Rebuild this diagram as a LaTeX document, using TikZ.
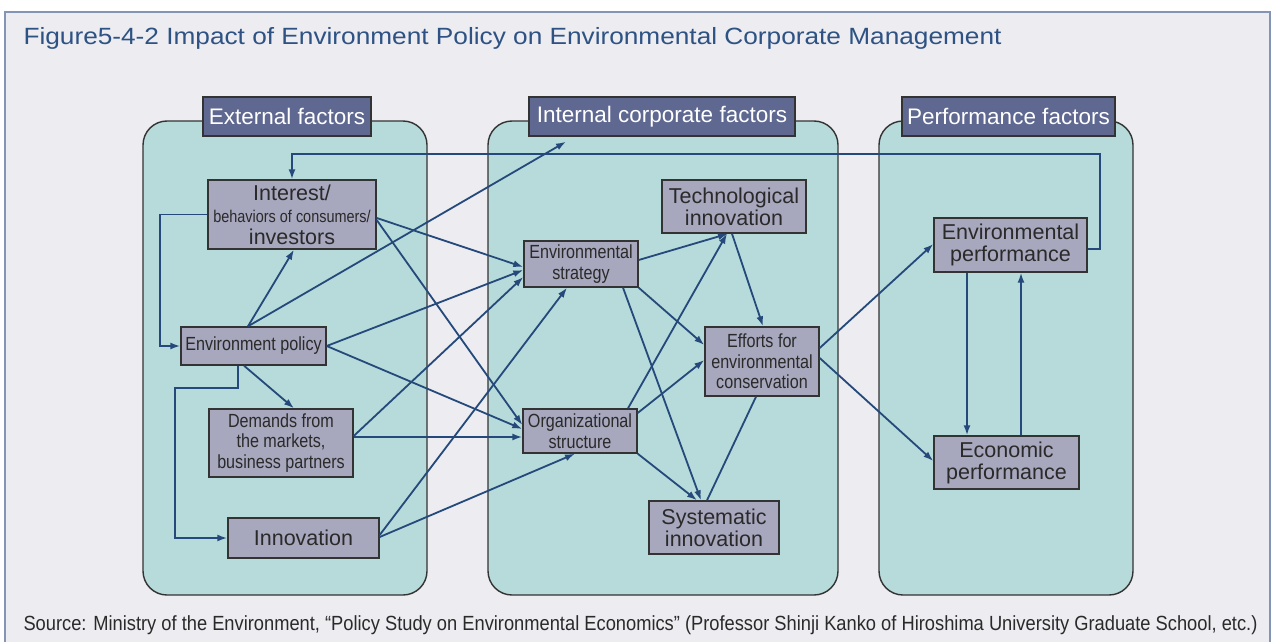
\documentclass[tikz,border=0pt]{standalone}
\usepackage{fontspec}
\usepackage{graphicx}
\setmainfont{Liberation Sans}
\newfontfamily\narrowfont[FakeStretch=0.85]{Liberation Sans}
\usetikzlibrary{arrows.meta}

\definecolor{pagebg}{HTML}{ECECF1}
\definecolor{framecol}{HTML}{8494B4}
\definecolor{panelfill}{HTML}{B7DADA}
\definecolor{boxline}{HTML}{333333}
\definecolor{headfill}{HTML}{5F6890}
\definecolor{nodefill}{HTML}{A7A7BE}
\definecolor{linkcol}{HTML}{24497A}
\definecolor{titlecol}{HTML}{2D5283}
\definecolor{txt}{HTML}{2A2A2A}

\tikzset{
  panel/.style={draw=boxline, fill=panelfill, line width=1.4pt, rounded corners=24pt},
  header/.style={draw=boxline, fill=headfill, line width=1.4pt, text=white,
    minimum height=39pt, inner sep=0pt, font=\fontsize{22.5}{24}\selectfont},
  factor/.style={draw=boxline, fill=nodefill, line width=1.4pt, text=txt,
    inner sep=0pt, align=center, font=\fontsize{21.5}{22}\selectfont},
  narrow/.style={font=\narrowfont\fontsize{19}{20.5}\selectfont},
  link/.style={draw=linkcol, line width=1.8pt, ->},
  plainlink/.style={draw=linkcol, line width=1.8pt},
}

\begin{document}
\begin{tikzpicture}[x=1pt, y=-1pt, >={Latex[length=10pt,width=7pt]}]
\useasboundingbox (0,0) rectangle (1274,642);
\clip (0,0) rectangle (1274,642);
\fill[white] (0,0) rectangle (1274,642);
\filldraw[fill=pagebg, draw=framecol, line width=1.5pt] (5,12) rectangle (1270,660);

\node[anchor=west, text=titlecol] (title) at (20,38)
  {\resizebox{978pt}{\height}{\fontsize{23.5}{26}\selectfont Figure5-4-2 Impact of Environment Policy on Environmental Corporate Management}};

% the three groups
\draw[panel] (143,121) rectangle (427,595);
\draw[panel] (488,121) rectangle (838,595);
\draw[panel] (879,121) rectangle (1133,595);
\node[header, minimum width=168pt] (exthead) at (287,116.5) {External factors};
\node[header, minimum width=266pt] (inthead) at (662,116.5) {Internal corporate factors};
\node[header, minimum width=213pt] (perfhead) at (1008.5,116.5) {Performance factors};

% external factors
\node[factor, minimum width=168pt, minimum height=69pt] (interest) at (292,214.5)
  {Interest/\\{\narrowfont\fontsize{17}{18}\selectfont behaviors of consumers/}\\investors};
\node[factor, narrow, minimum width=145pt, minimum height=38pt] (policy) at (253.5,346) {Environment policy};
\node[factor, narrow, minimum width=144pt, minimum height=68pt] (demands) at (281,443)
  {Demands from\\the markets,\\business partners};
\node[factor, minimum width=151pt, minimum height=40pt] (innov) at (303.5,538) {Innovation};

% internal corporate factors
\node[factor, narrow, minimum width=114pt, minimum height=46pt] (strategy) at (581,264) {Environmental\\strategy};
\node[factor, narrow, minimum width=114pt, minimum height=44pt] (orgstruct) at (580,431) {Organizational\\structure};
\node[factor, minimum width=144pt, minimum height=53pt] (techinn) at (734,206.5) {Technological\\innovation};
\node[factor, narrow, minimum width=114pt, minimum height=69pt] (efforts) at (762,361.5)
  {Efforts for\\environmental\\conservation};
\node[factor, minimum width=130pt, minimum height=53pt] (sysinn) at (714,527.5) {Systematic\\innovation};

% performance factors
\node[factor, minimum width=153pt, minimum height=54pt] (envperf) at (1010.5,245) {Environmental\\performance};
\node[factor, minimum width=145pt, minimum height=53pt] (econperf) at (1006.5,462.5) {Economic\\performance};

% links
\coordinate (fbtop) at (1100,154);
\draw[link] ([yshift=-4]envperf.east) -| (fbtop) -| (interest.north);
\draw[link] (interest.west) -- ++(-47,0) |- (policy.west);
\coordinate (bendB) at (175,388);
\draw[link] ([xshift=-15.5]policy.south) |- (bendB) |- (innov.west);
\draw[link] ([xshift=-5.5]policy.north) -- ([xshift=2]interest.south);
\draw[link] ([xshift=-5.5]policy.north) -- ([shift={(-96,5)}]inthead.south);
\draw[link] (policy.east) -- ([yshift=-6]strategy.west);
\draw[link] (policy.east) -- ([yshift=2]orgstruct.west);
\draw[link] ([xshift=-9.5]policy.south) -- ([xshift=13]demands.north);
\draw[link] ([yshift=-3.5]interest.east) -- ([yshift=-3]strategy.west);
\draw[link] ([yshift=-5.5]interest.east) -- ([yshift=6]orgstruct.west);
\draw[link] ([yshift=6]demands.east) -- ([yshift=6]demands.east -| orgstruct.west);
\draw[link] ([yshift=7]demands.east) -- ([yshift=-13]strategy.west);
\draw[link] ([yshift=3]innov.east) -- ([xshift=-14]strategy.south);
\draw[link] ([yshift=1]innov.east) -- ([xshift=-5]orgstruct.south);
\draw[link] ([yshift=4]strategy.east) -- ([xshift=-6]techinn.south);
\draw[link] (strategy.south east) -- ([yshift=16.5]efforts.west);
\draw[link] ([xshift=42]strategy.south) -- ([xshift=-13]sysinn.north);
\draw[link] ([xshift=48]orgstruct.north) -- ([xshift=-7]techinn.south);
\draw[link] ([yshift=18]orgstruct.east) -- ([yshift=1.5]efforts.west);
\draw[link] (orgstruct.south east) -- ([xshift=-17]sysinn.north);
\draw[link] ([xshift=-2]techinn.south) -- ([xshift=1]efforts.north);
\draw[plainlink] ([xshift=-6]efforts.south) -- ([xshift=-7]sysinn.north);
\draw[link] ([yshift=13.5]efforts.east) -- ([yshift=1]envperf.west);
\draw[link] ([yshift=3.5]efforts.east) -- ([yshift=1.5]econperf.west);
\draw[link] ([xshift=-43.5]envperf.south) -- ([xshift=-43.5]envperf.south |- econperf.north);
\draw[link] ([xshift=14.5]econperf.north) -- ([xshift=14.5]econperf.north |- envperf.south);

\node[anchor=west, text=txt] (source) at (20,625)
  {\resizebox{1234pt}{\height}{\fontsize{20.5}{22}\selectfont Source: Ministry of the Environment, “Policy Study on Environmental Economics” (Professor Shinji Kanko of Hiroshima University Graduate School, etc.)}};
\end{tikzpicture}
\end{document}
